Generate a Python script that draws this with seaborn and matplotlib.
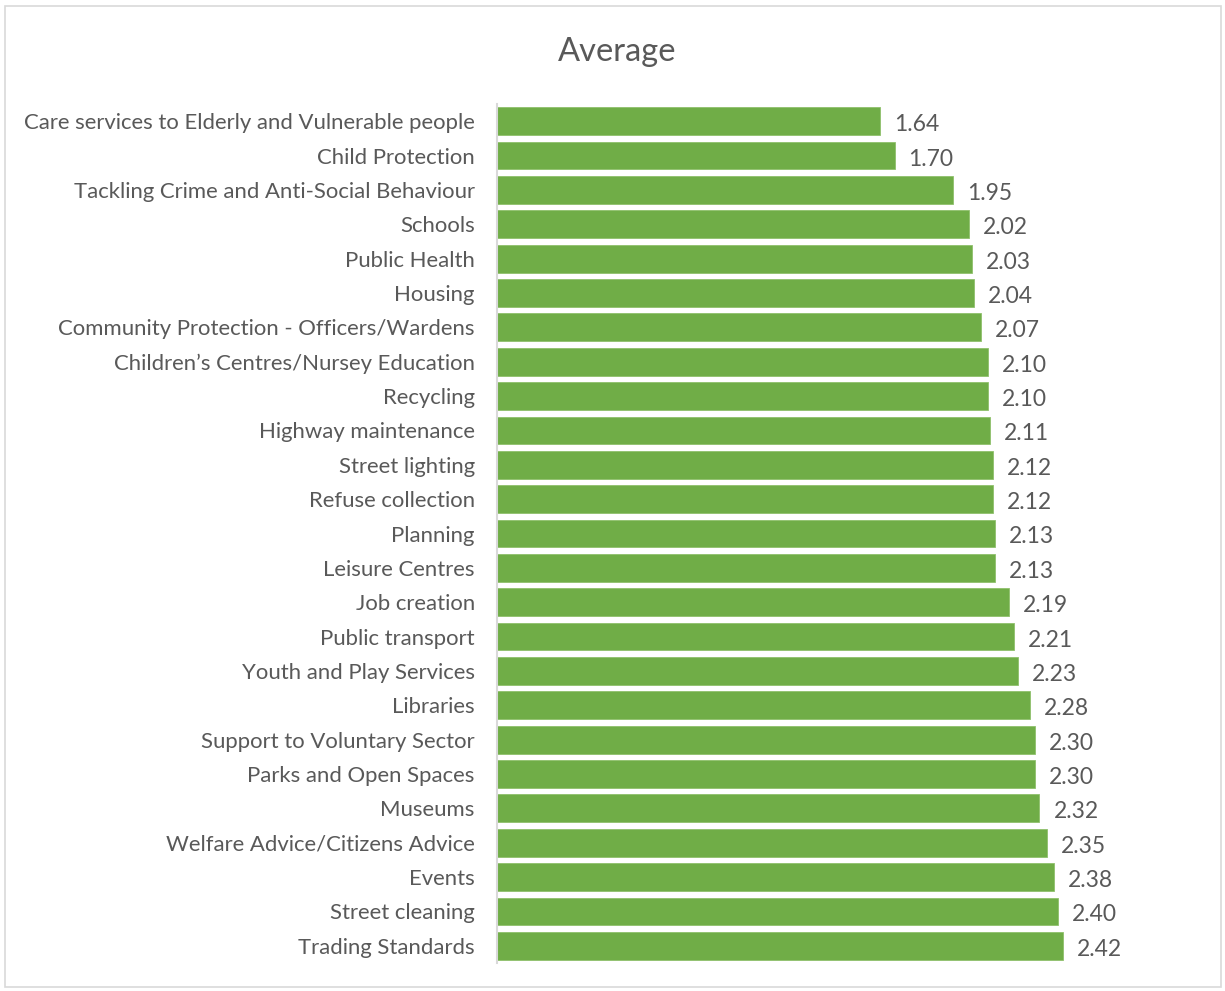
import matplotlib
matplotlib.use("Agg")
import matplotlib.pyplot as plt
import seaborn as sns
import pandas as pd
from matplotlib.patches import Rectangle

services = [
    "Care services to Elderly and Vulnerable people",
    "Child Protection",
    "Tackling Crime and Anti-Social Behaviour",
    "Schools",
    "Public Health",
    "Housing",
    "Community Protection - Officers/Wardens",
    "Children\u2019s Centres/Nursey Education",
    "Recycling",
    "Highway maintenance",
    "Street lighting",
    "Refuse collection",
    "Planning",
    "Leisure Centres",
    "Job creation",
    "Public transport",
    "Youth and Play Services",
    "Libraries",
    "Support to Voluntary Sector",
    "Parks and Open Spaces",
    "Museums",
    "Welfare Advice/Citizens Advice",
    "Events",
    "Street cleaning",
    "Trading Standards",
]
averages = [1.64, 1.70, 1.95, 2.02, 2.03, 2.04, 2.07, 2.10, 2.10, 2.11, 2.12, 2.12,
            2.13, 2.13, 2.19, 2.21, 2.23, 2.28, 2.30, 2.30, 2.32, 2.35, 2.38, 2.40, 2.42]

df = pd.DataFrame({"service": services, "average": averages})

sns.set_style("white")
plt.rcParams["font.family"] = ["Lato", "DejaVu Sans"]

text_col = "#595959"
W, H = 1225, 991
fig = plt.figure(figsize=(W / 100, H / 100), dpi=100)
ax = fig.add_axes([497 / W, 1 - 963 / H, (1198.5 - 497) / W, (963 - 104) / H])

sns.barplot(data=df, x="average", y="service", color="#70AD47", orient="h",
            width=0.81, edgecolor="#8fc06c", linewidth=0.6, saturation=1, ax=ax)

ax.set_xlim(0, 3)
ax.set_ylim(len(services) - 0.5, -0.5)

# value labels, nudged a little below the bar centre like excel does
for bar in ax.containers[0]:
    w = bar.get_width()
    yc = bar.get_y() + bar.get_height() / 2
    ax.annotate(f"{w:.2f}", (w, yc), xytext=(10, -2.5), textcoords="offset points",
                ha="left", va="center", fontsize=16.5, color=text_col)

ax.set_xlabel("")
ax.set_ylabel("")
ax.set_xticks([])
ax.tick_params(axis="y", length=0, pad=16, labelsize=15.9, labelcolor=text_col)
for s in ["top", "right", "bottom"]:
    ax.spines[s].set_visible(False)
ax.spines["left"].set_color("#D9D9D9")
ax.spines["left"].set_linewidth(1.5)

fig.text(617 / W, 1 - 52 / H, "Average", ha="center", va="center",
         fontsize=23.5, color=text_col)

fig.patches.append(Rectangle((5 / W, 1 - 987 / H), (1221 - 5) / W, (987 - 6) / H,
                             transform=fig.transFigure, fill=False,
                             edgecolor="#D9D9D9", linewidth=1.2))

fig.savefig("out.png", dpi=100)
